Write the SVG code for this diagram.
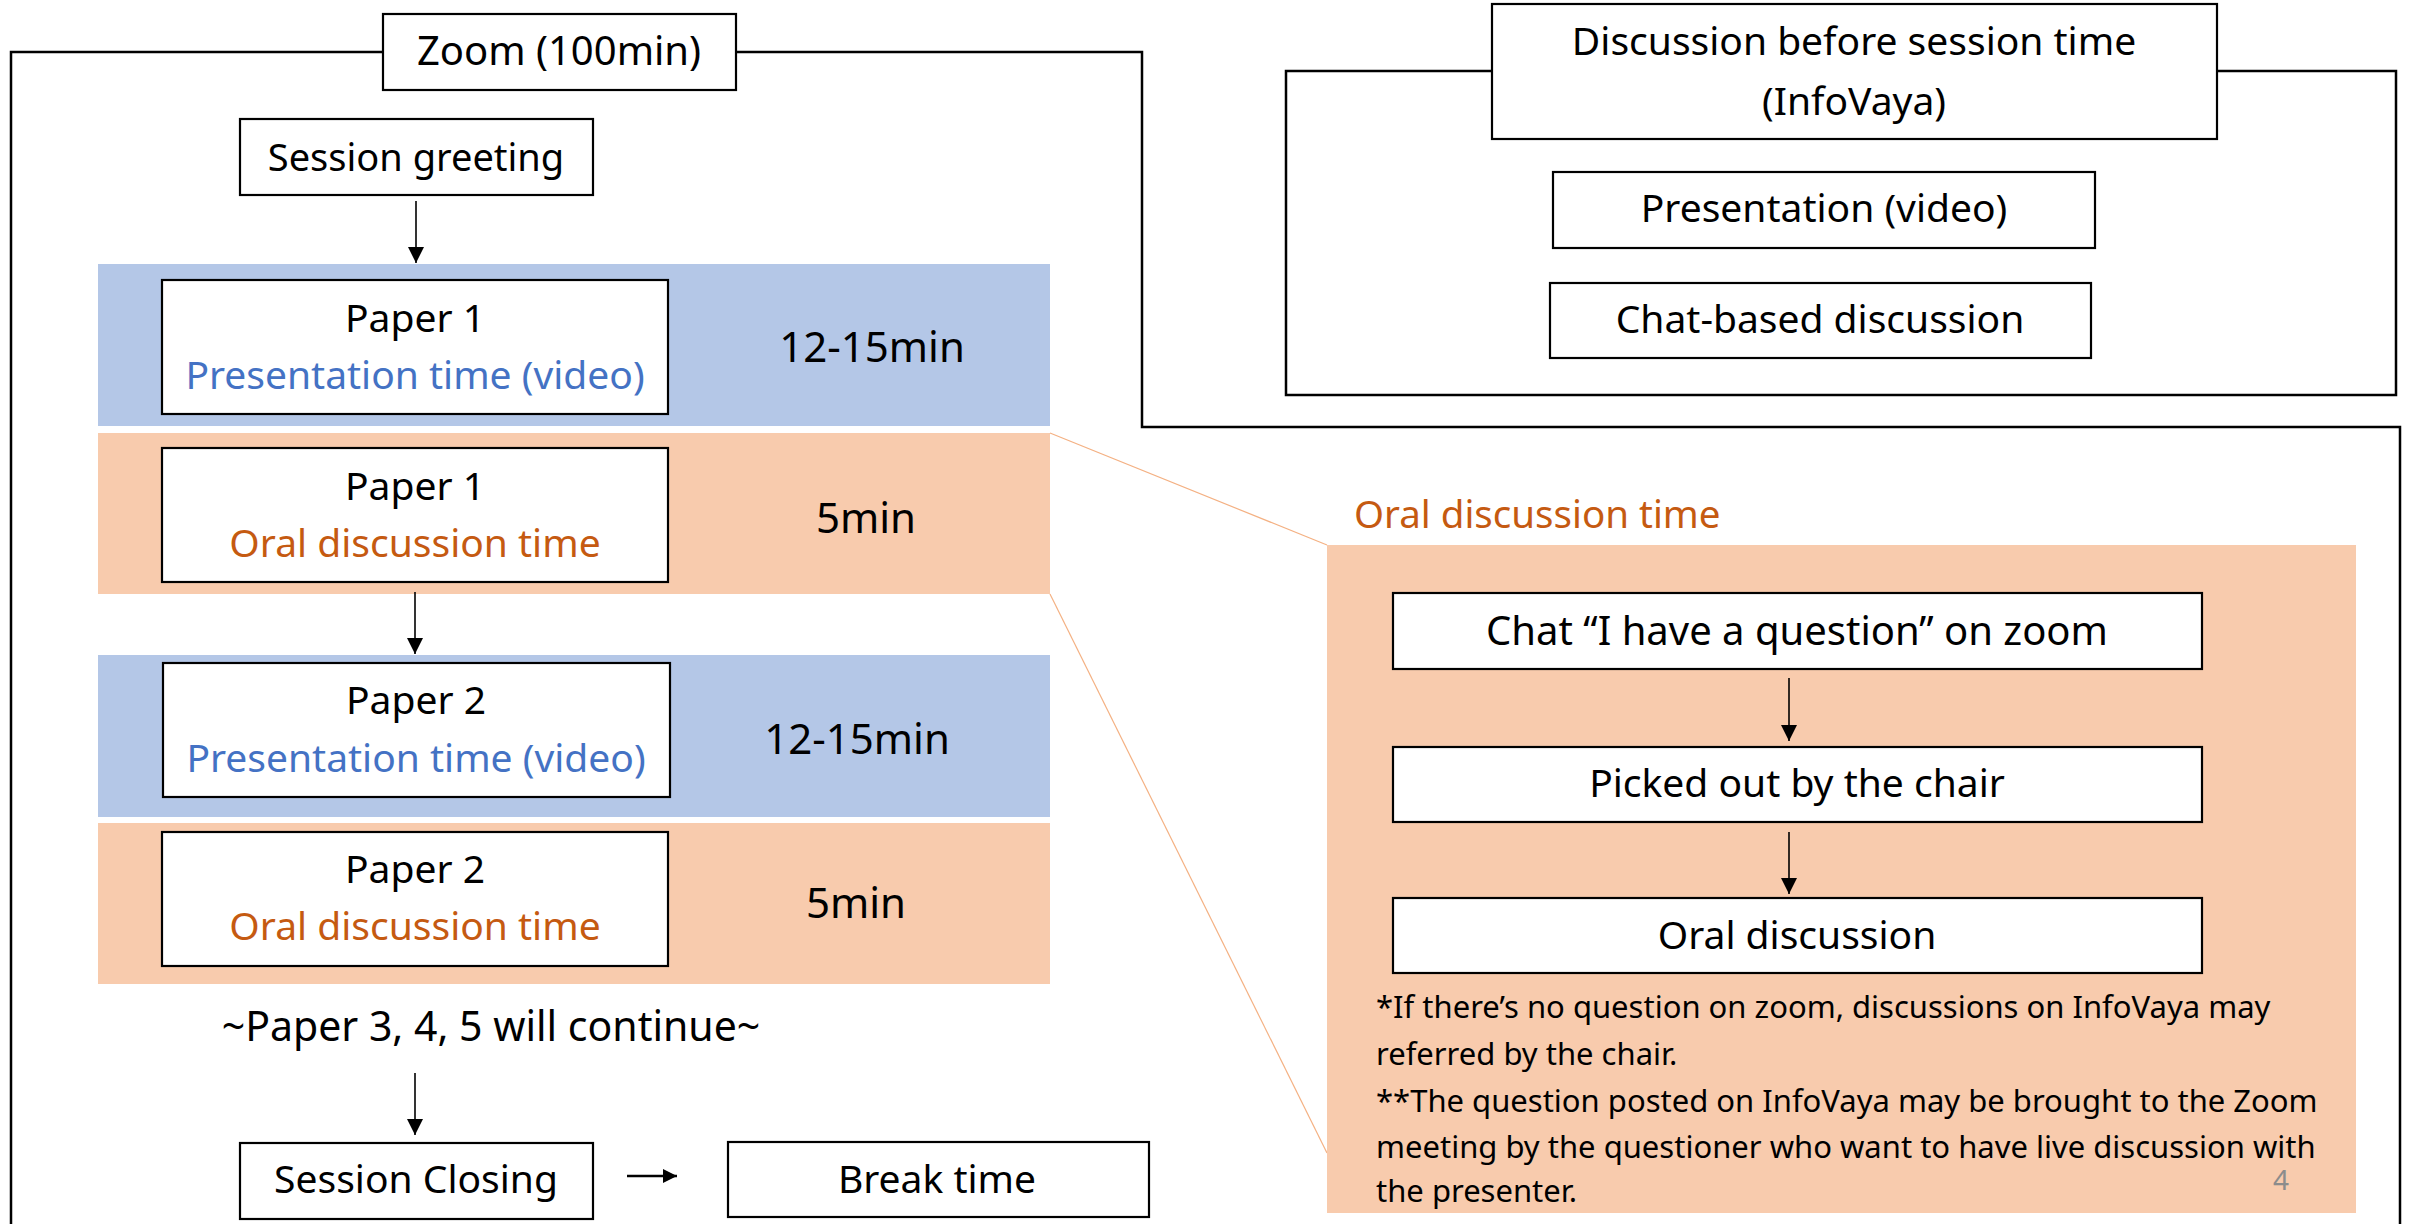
<svg xmlns="http://www.w3.org/2000/svg" width="2410" height="1224" viewBox="0 0 2410 1224">
<style>
text{font-family:"Noto Sans","DejaVu Sans",sans-serif;fill:#000}
.t{font-size:39px;text-anchor:middle}
.big{font-size:42px;text-anchor:middle}
.blue{fill:#4472C4}
.orng{fill:#C55A11}
.box{fill:#fff;stroke:#000;stroke-width:2.2}
.frame{fill:none;stroke:#000;stroke-width:2.5}
.conn{stroke:#000;stroke-width:1.6;fill:none;marker-end:url(#ah)}
.note{font-size:31px}
</style>
<defs>
<marker id="ah" viewBox="0 0 16 16" refX="16" refY="8" markerWidth="16" markerHeight="16" markerUnits="userSpaceOnUse" orient="auto">
<path d="M0,0 L16,8 L0,16 Z" fill="#000"/>
</marker>
<marker id="ah2" viewBox="0 0 14 14" refX="14" refY="7" markerWidth="14" markerHeight="14" markerUnits="userSpaceOnUse" orient="auto">
<path d="M0,0 L14,7 L0,14 Z" fill="#000"/>
</marker>
</defs>

<!-- Frames -->
<g id="zoom-frame">
<path class="frame" d="M11,1224 V52 H383 M736,52 H1142 V427 H2400 V1224"/>
</g>
<g id="infovaya-frame">
<rect class="frame" x="1286" y="71" width="1110" height="324"/>
</g>

<!-- Bands -->
<g id="band-p1-pres"><rect x="98" y="264" width="952" height="162" fill="#B4C7E7"/></g>
<g id="band-p1-oral"><rect x="98" y="433" width="952" height="161" fill="#F8CBAD"/></g>
<g id="band-p2-pres"><rect x="98" y="655" width="952" height="162" fill="#B4C7E7"/></g>
<g id="band-p2-oral"><rect x="98" y="823" width="952" height="161" fill="#F8CBAD"/></g>

<!-- Zoom-in guide lines -->
<g id="zoom-guides" stroke="#F4B183" stroke-width="1.2" fill="none">
<line x1="1050" y1="433" x2="1327" y2="545"/>
<line x1="1050" y1="594" x2="1327" y2="1153"/>
</g>

<!-- Oral discussion panel -->
<g id="oral-panel">
<rect x="1327" y="545" width="1029" height="668" fill="#F8CBAD"/>
<text x="1354" y="528" font-size="38.5" class="orng">Oral discussion time</text>
</g>

<!-- Nodes -->
<g id="zoom-title">
<rect class="box" x="383" y="14" width="353" height="76"/>
<text class="t" x="559" y="65" style="font-size:40px">Zoom (100min)</text>
</g>
<g id="session-greeting">
<rect class="box" x="240" y="119" width="353" height="76"/>
<text class="t" x="416" y="171" style="font-size:38px">Session greeting</text>
</g>
<g id="paper1-pres">
<rect class="box" x="162" y="280" width="506" height="134"/>
<text class="t" x="415" y="332">Paper 1</text>
<text class="t blue" x="415" y="389">Presentation time (video)</text>
<text class="big" x="872" y="362">12-15min</text>
</g>
<g id="paper1-oral">
<rect class="box" x="162" y="448" width="506" height="134"/>
<text class="t" x="415" y="500">Paper 1</text>
<text class="t orng" x="415" y="557">Oral discussion time</text>
<text class="big" x="866" y="533">5min</text>
</g>
<g id="paper2-pres">
<rect class="box" x="163" y="663" width="507" height="134"/>
<text class="t" x="416" y="714">Paper 2</text>
<text class="t blue" x="416" y="772">Presentation time (video)</text>
<text class="big" x="857" y="754">12-15min</text>
</g>
<g id="paper2-oral">
<rect class="box" x="162" y="832" width="506" height="134"/>
<text class="t" x="415" y="883">Paper 2</text>
<text class="t orng" x="415" y="940">Oral discussion time</text>
<text class="big" x="856" y="918">5min</text>
</g>
<g id="continue-note">
<text class="t" x="491" y="1041" style="font-size:41px">~Paper 3, 4, 5 will continue~</text>
</g>
<g id="session-closing">
<rect class="box" x="240" y="1143" width="353" height="76"/>
<text class="t" x="416" y="1193">Session Closing</text>
</g>
<g id="break-time">
<rect class="box" x="728" y="1142" width="421" height="75"/>
<text class="t" x="937" y="1193">Break time</text>
</g>

<g id="infovaya-title">
<rect class="box" x="1492" y="4" width="725" height="135"/>
<text class="t" x="1854" y="55">Discussion before session time</text>
<text class="t" x="1854" y="115">(InfoVaya)</text>
</g>
<g id="presentation-video">
<rect class="box" x="1553" y="172" width="542" height="76"/>
<text class="t" x="1824" y="222">Presentation (video)</text>
</g>
<g id="chat-based">
<rect class="box" x="1550" y="283" width="541" height="75"/>
<text class="t" x="1820" y="333">Chat-based discussion</text>
</g>

<g id="chat-question">
<rect class="box" x="1393" y="593" width="809" height="76"/>
<text class="t" x="1797" y="645" style="font-size:40px">Chat “I have a question” on zoom</text>
</g>
<g id="picked-out">
<rect class="box" x="1393" y="747" width="809" height="75"/>
<text class="t" x="1797" y="797">Picked out by the chair</text>
</g>
<g id="oral-discussion">
<rect class="box" x="1393" y="898" width="809" height="75"/>
<text class="t" x="1797" y="949">Oral discussion</text>
</g>
<g id="notes">
<text class="note" x="1376" y="1018">*If there’s no question on zoom, discussions on InfoVaya may</text>
<text class="note" x="1376" y="1065">referred by the chair.</text>
<text class="note" x="1376" y="1112">**The question posted on InfoVaya may be brought to the Zoom</text>
<text class="note" x="1376" y="1158">meeting by the questioner who want to have live discussion with</text>
<text class="note" x="1376" y="1202">the presenter.</text>
</g>
<g id="page-number">
<text x="2281" y="1190" font-size="28" text-anchor="middle" style="fill:#8C8C8C">4</text>
</g>

<!-- Connectors -->
<g id="connectors">
<line class="conn" x1="416" y1="201" x2="416" y2="263"/>
<line class="conn" x1="415" y1="592" x2="415" y2="654"/>
<line class="conn" x1="415" y1="1073" x2="415" y2="1135"/>
<line x1="627" y1="1176" x2="677" y2="1176" stroke="#000" stroke-width="2.5" marker-end="url(#ah2)"/>
<line class="conn" x1="1789" y1="678" x2="1789" y2="741"/>
<line class="conn" x1="1789" y1="832" x2="1789" y2="894"/>
</g>
</svg>
